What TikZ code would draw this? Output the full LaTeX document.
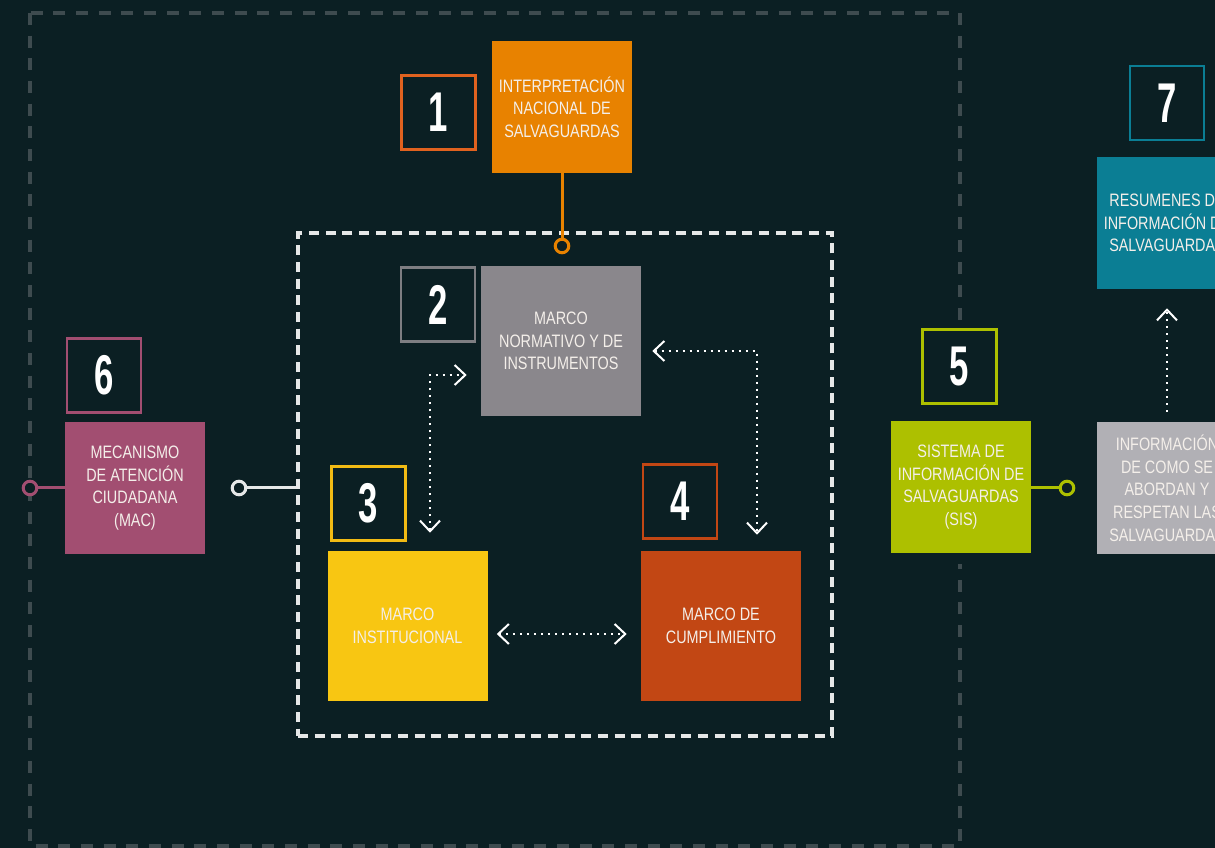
\documentclass[tikz,border=0pt]{standalone}
\usepackage{fontspec}
\newfontfamily\boxfont{Liberation Sans}[FakeStretch=0.8]
\newfontfamily\numfont{Liberation Sans Bold}[FakeStretch=0.62]
\usetikzlibrary{arrows.meta,calc}
\definecolor{bg}{HTML}{0B1F23}
\definecolor{txt}{HTML}{F4EFEA}
\definecolor{cOrange}{HTML}{E88200}
\definecolor{cOrangeLine}{HTML}{E0621F}
\definecolor{cGray}{HTML}{8A878C}
\definecolor{cGrayLine}{HTML}{7E7E82}
\definecolor{cYellow}{HTML}{F8C612}
\definecolor{cYellowLine}{HTML}{F2BB14}
\definecolor{cRed}{HTML}{C24714}
\definecolor{cPink}{HTML}{A24E71}
\definecolor{cGreen}{HTML}{ADC000}
\definecolor{cLight}{HTML}{B1B0B5}
\definecolor{cTeal}{HTML}{0B7E94}
\definecolor{outerC}{HTML}{3E4B4F}
\definecolor{innerC}{HTML}{E6E8E8}
\tikzset{
  numbox/.style={draw=#1, line width=1.8pt, minimum width=55.5pt, minimum height=55.5pt,
    inner sep=0pt, text=white, font=\numfont\fontsize{42}{42}\selectfont},
  mainbox/.style={fill=#1, minimum width=105pt, minimum height=99pt, inner sep=0pt,
    align=center, text=txt, font=\boxfont\fontsize{13.5}{17}\selectfont},
  bigbox/.style={fill=#1, minimum width=120pt, minimum height=112.5pt, inner sep=0pt,
    align=center, text=txt, font=\boxfont\fontsize{13.5}{17}\selectfont},
  ring/.style={circle, draw=#1, fill=bg, line width=2.25pt, minimum size=10.2pt, inner sep=0pt},
  link/.style={draw=#1, line width=2.25pt},
  darr/.style={draw=white, line width=1.5pt, dash pattern=on 1.5pt off 3.75pt,
    {Straight Barb[length=8pt,width=15pt,line width=1.5pt]}-{Straight Barb[length=8pt,width=15pt,line width=1.5pt]}},
  sarr/.style={draw=white, line width=1.5pt, dash pattern=on 1.5pt off 3.75pt,
    -{Straight Barb[length=8pt,width=15pt,line width=1.5pt]}},
  outerrect/.style={draw=outerC, line width=2.4pt, dash pattern=on 9pt off 8pt},
  innerrect/.style={draw=innerC, line width=2.4pt, dash pattern=on 7.5pt off 5pt},
}
\begin{document}
\begin{tikzpicture}[x=0.75pt,y=-0.75pt]
\path[use as bounding box, fill=bg] (0,0) rectangle (1215,848);
\clip (0,0) rectangle (1215,848);

% outer dashed frame
\draw[outerrect] (30,13) rectangle (960,846);
\fill[bg] (948,322) rectangle (972,564);

% inner dashed frame
\node[innerrect, minimum width=400.5pt, minimum height=377.25pt, inner sep=0pt] (inner) at (565,484.5) {};

% 1
\node[numbox=cOrangeLine] (n1) at (438.5,112.5) {1};
\node[mainbox=cOrange] (b1) at (562,107) {INTERPRETACIÓN\\NACIONAL DE\\SALVAGUARDAS};
\node[ring=cOrange] (c1) at (562,246) {};
\draw[link=cOrange] (b1.south) -- (c1.north);

% 2
\node[numbox=cGrayLine] (n2) at (438,304.5) {2};
\node[bigbox=cGray] (b2) at (561,341) {MARCO\\NORMATIVO Y DE\\INSTRUMENTOS};

% 3
\node[numbox=cYellowLine] (n3) at (368.5,503.5) {3};
\node[bigbox=cYellow] (b3) at (407.5,626) {MARCO\\INSTITUCIONAL};

% 4
\node[numbox=cRed] (n4) at (680,501.5) {4};
\node[bigbox=cRed] (b4) at (721,626) {MARCO DE\\CUMPLIMIENTO};

% dotted arrows
\draw[darr] ($(b3.north)+(22.5,-18)$) |- ($(b2.west)+(-14,34)$);
\draw[darr] ($(b2.east)+(11,10)$) -| ($(b4.north)+(36,-16)$);
\draw[darr] ($(b3.east)+(9,8)$) -- ($(b4.west)+(-14,8)$);

% 6
\node[numbox=cPink] (n6) at (104,375.5) {6};
\node[mainbox=cPink] (b6) at (135,488) {MECANISMO\\DE ATENCIÓN\\CIUDADANA\\(MAC)};
\node[ring=cPink] (c6) at (30,488) {};
\draw[link=cPink] (c6.east) -- (b6.west);
\node[ring=innerC] (cw) at (239,488) {};
\draw[link=innerC] (cw.east) -- (cw -| inner.west);

% 5
\node[numbox=cGreen] (n5) at (959.5,366.5) {5};
\node[mainbox=cGreen] (b5) at (961,487) {SISTEMA DE\\INFORMACIÓN DE\\SALVAGUARDAS\\(SIS)};
\node[ring=cGreen] (c5) at (1067,488) {};
\draw[link=cGreen] (b5.east |- c5) -- (c5.west);

% info box
\node[mainbox=cLight] (b8) at (1167,488) {INFORMACIÓN\\DE COMO SE\\ABORDAN Y\\RESPETAN LAS\\SALVAGUARDAS};

% 7
\node[numbox=cTeal] (n7) at (1167,103) {7};
\node[mainbox=cTeal] (b7) at (1167,223) {RESUMENES DE\\INFORMACIÓN DE\\SALVAGUARDAS};
\draw[sarr] ($(b8.north)+(0,-10)$) -- ($(b7.south)+(0,19)$);
\end{tikzpicture}
\end{document}
